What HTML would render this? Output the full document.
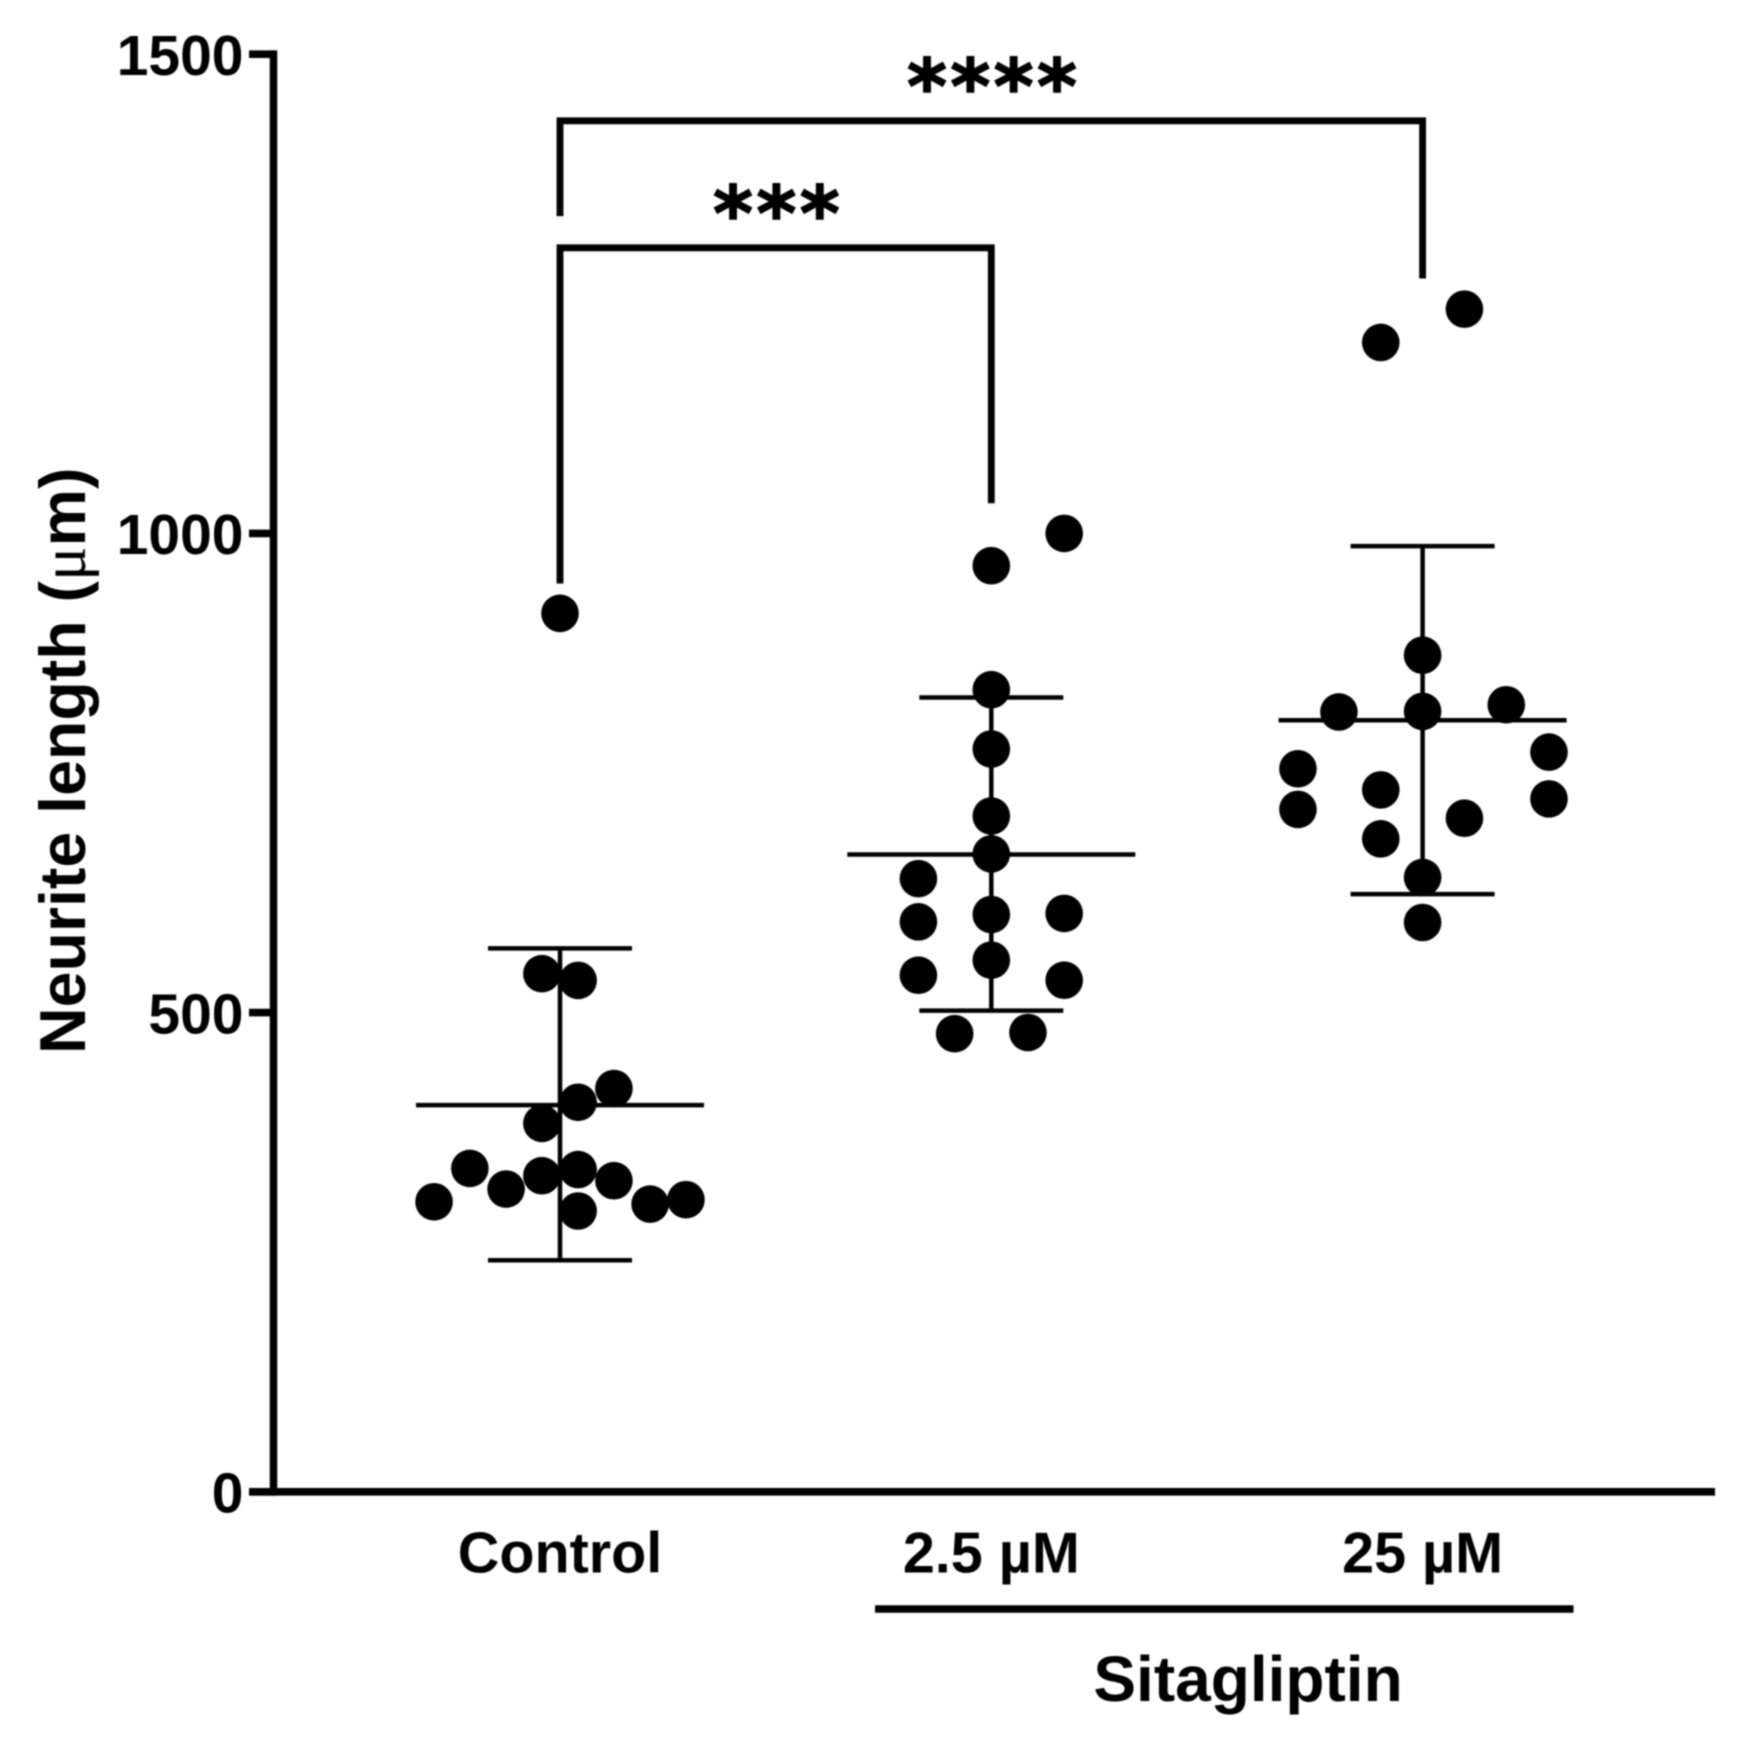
<!DOCTYPE html>
<html lang="en">
<head>
<meta charset="utf-8">
<title>Neurite length chart</title>
<style>
html,body{margin:0;padding:0;background:#fff;width:1746px;height:1742px;overflow:hidden}
svg{display:block}
text{font-family:"Liberation Sans",Arial,sans-serif;font-weight:bold;fill:#000}
</style>
</head>
<body>
<svg id="chart" xmlns="http://www.w3.org/2000/svg" width="1746" height="1742" viewBox="0 0 1746 1742">
<defs><filter id="soft" x="-2%" y="-2%" width="104%" height="104%"><feGaussianBlur stdDeviation="0.9"/></filter></defs>
<g id="root" filter="url(#soft)"></g>
</svg>
<script>
const categories = ["Control", "2.5 µM", "25 µM"];
const yTicks = [0, 500, 1000, 1500];
const controlValues = [916.6, 540.6, 533.6, 420.8, 406.4, 384.4, 337.4, 336.2, 329.8, 324.6, 315.9, 304.8, 302.6, 300.2, 293];
const controlJitter = [0, -0.042, 0.042, 0.125, 0.042, -0.042, -0.209, 0.042, -0.042, 0.125, -0.125, 0.292, -0.292, 0.209, 0.042];
const lowDoseValues = [1000, 966.3, 836.9, 775, 705.1, 665.6, 639.8, 594.7, 602.3, 603.5, 539, 554.7, 533.8, 478, 479.2];
const lowDoseJitter = [0.169, 0, 0, 0, 0, 0, -0.169, -0.169, 0, 0.169, -0.169, 0, 0.169, -0.085, 0.085];
const highDoseValues = [1234, 1199.2, 872.9, 813.7, 814.3, 821.2, 771.8, 754.4, 732.4, 712, 723, 702.8, 681.3, 641, 594];
const highDoseJitter = [0.097, -0.097, 0, -0.194, 0, 0.194, 0.293, -0.289, -0.097, -0.289, 0.293, 0.097, -0.097, 0, 0];
const meanValues = [403.5, 665, 805];
const upperErrors = [567, 828.8, 986.7];
const lowerErrors = [241.6, 502, 623.6];
const bracketFrom = [0, 0];
const bracketTo = [1, 2];
const bracketLevels = [1298, 1430.5];
const bracketLeftEnds = [947.7, 1331.1];
const bracketRightEnds = [1031.4, 1266];
const bracketLabels = ["***", "****"];

const root = document.getElementById('root');
const NS = 'http://www.w3.org/2000/svg';
const xScale = i => 560 + 431.3 * i;
const yScale = v => 1491.8 - 0.9584 * v;

function shape(tag, attrs, parent) {
  const el = document.createElementNS(NS, tag);
  for (const k in attrs) el.setAttribute(k, attrs[k]);
  (parent || root).appendChild(el);
  return el;
}
function hLine(x1, x2, y, w) {
  return shape('line', {x1: x1, x2: x2, y1: y, y2: y, stroke: '#000', 'stroke-width': w});
}
function vLine(x, y1, y2, w) {
  return shape('line', {x1: x, x2: x, y1: y1, y2: y2, stroke: '#000', 'stroke-width': w});
}
function label(str, x, y, size, anchor) {
  const el = shape('text', {x: x, y: y, 'font-size': size, 'text-anchor': anchor});
  el.textContent = str;
  return el;
}

// Axes
const yAxisLine = vLine(273.5, yScale(1500) - 3.8, yScale(0) + 3.8, 7.5);


const xAxisLine = hLine(249, 1715, yScale(0), 7.6);



yTicks.forEach(t => {
  const tick = hLine(249, 273.5, yScale(t), 7.6);
  
  
  const tl = label(String(t), 243.5, yScale(t) + 20.8, 57, 'end');
  
  
});

// Y axis title
const yTitle = shape('text', {transform: 'translate(85,1054) rotate(-90)', 'font-size': 64.5, 'text-anchor': 'start'});


const yTitleMain = shape('tspan', {}, yTitle);
yTitleMain.textContent = 'Neurite length (';
const yTitleMu = shape('tspan', {style: 'font-family:"Liberation Serif",serif;font-weight:normal'}, yTitle);
yTitleMu.textContent = 'μ';
const yTitleEnd = shape('tspan', {}, yTitle);
yTitleEnd.textContent = 'm)';

// Category labels
categories.forEach((c, i) => {
  const cl = label(c, xScale(i), 1572.5, 57.5, 'middle');
  
  
});

// Group rule and label
const groupRule = hLine(875, 1573.5, 1609, 7.5);


const groupLabel = label('Sitagliptin', 1248, 1701, 64, 'middle');



// Mean and error bars
meanValues.forEach((m, i) => {
  const cx = xScale(i);
  const mean = hLine(cx - 144, cx + 144, yScale(m), 4.5);
  
  
  const stem = vLine(cx, yScale(upperErrors[i]), yScale(lowerErrors[i]), 4.5);
  
  
  const capTop = hLine(cx - 72, cx + 72, yScale(upperErrors[i]), 4.5);
  
  
  const capBottom = hLine(cx - 72, cx + 72, yScale(lowerErrors[i]), 4.5);
  
  
});

// Points
[[controlValues, controlJitter], [lowDoseValues, lowDoseJitter], [highDoseValues, highDoseJitter]].forEach((series, g) => {
  series[0].forEach((v, k) => {
    const dot = shape('circle', {cx: xScale(g + series[1][k]), cy: yScale(v), r: 18.8, fill: '#000'});
    
    
  });
});

// Significance brackets
bracketLevels.forEach((lvl, b) => {
  const xa = xScale(bracketFrom[b]);
  const xb = xScale(bracketTo[b]);
  const pts = [xa, yScale(bracketLeftEnds[b]), xa, yScale(lvl), xb, yScale(lvl), xb, yScale(bracketRightEnds[b])].join(' ');
  const br = shape('polyline', {points: pts, fill: 'none', stroke: '#000', 'stroke-width': 6.8, 'stroke-linejoin': 'miter'});
  
  
  const star = label(bracketLabels[b], (xa + xb) / 2 + 2.5, yScale(lvl) - 8, 76, 'middle');
  star.setAttribute('style', 'font-family:"DejaVu Sans",sans-serif;letter-spacing:3.6px;stroke:#000;stroke-width:1.6px');
  
  
});
</script>
</body>
</html>
